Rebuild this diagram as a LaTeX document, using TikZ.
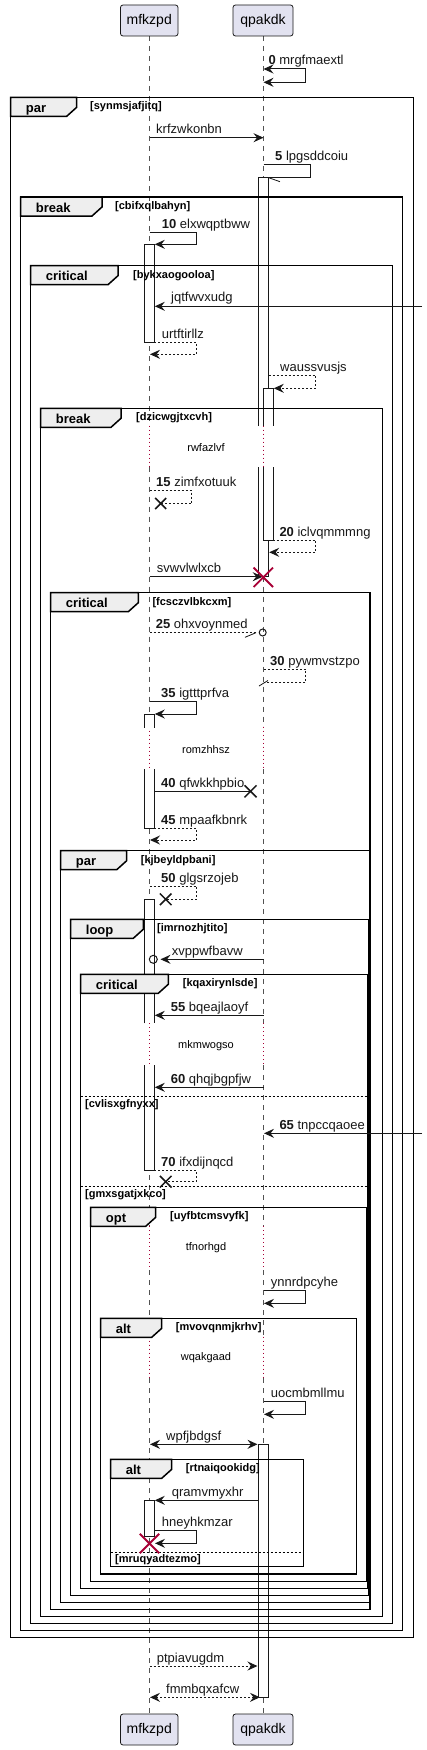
\documentclass[tikz,border=0pt]{standalone}
\usepackage{fontspec}
\setmainfont{Liberation Sans}
\usetikzlibrary{arrows.meta}
\definecolor{lc}{HTML}{181818}
\definecolor{pfill}{HTML}{E2E2F0}
\definecolor{tfill}{HTML}{EEEEEE}
\definecolor{rx}{HTML}{A80036}
\newcommand\msgfont{\fontsize{13}{15}\selectfont}
\newcommand\partfont{\fontsize{14}{16}\selectfont}
\newcommand\tabfont{\fontsize{13}{15}\selectfont\bfseries}
\newcommand\flabfont{\fontsize{11}{13}\selectfont\bfseries}
\newcommand\delayfont{\fontsize{11}{13}\selectfont}
% frame: name, L, T, R, B, tabR, title, label, labelX
\newcommand\umlframe[9]{%
  \draw[frameline] (#2,#3) rectangle (#4,#5);
  \filldraw[tabshape] (#2,#3) -- (#6,#3) -- (#6,#3+10) -- (#6-10,#3+19) -- (#2,#3+19) -- cycle;
  \node[tabtitle] (#1t) at (#2+15,#3+15) {#7};
  \node[flabel] (#1l) at (#9,#3+12.5) {[#8]};
}
% separator: name, L, R, y, label
\newcommand\umlsep[5]{%
  \draw[sepline] (#2,#4) -- (#3,#4);
  \node[flabel] (#1) at (#2+4.3,#4+10.5) {[#5]};
}
\newcommand\xmark[4]{% x, y, half size, style
  \draw[#4] (#1-#3,#2-#3) -- (#1+#3,#2+#3) (#1-#3,#2+#3) -- (#1+#3,#2-#3);
}
\begin{document}
\begin{tikzpicture}[x=1pt,y=-1pt,
  msgline/.style={draw=lc,line width=1pt},
  dmsgline/.style={msgline,dash pattern=on 2pt off 2pt},
  endarr/.style={-{Stealth[length=10pt,width=9pt,inset=3.5pt]}},
  botharr/.style={{Stealth[length=10pt,width=9pt,inset=3.5pt]}-{Stealth[length=10pt,width=9pt,inset=3.5pt]}},
  msgtext/.style={anchor=base west,inner sep=0pt,font=\msgfont,text=lc},
  part/.style={draw=lc,fill=pfill,rounded corners=2.5pt,line width=0.8pt,minimum height=31pt,inner sep=0pt,font=\partfont,text=black},
  frameline/.style={draw=black,line width=1.5pt},
  tabshape/.style={draw=black,fill=tfill,line width=1.5pt,line join=miter},
  tabtitle/.style={anchor=base west,inner sep=0pt,font=\tabfont},
  flabel/.style={anchor=base west,inner sep=0pt,font=\flabfont},
  sepline/.style={draw=black,line width=1pt,dash pattern=on 2pt off 2pt},
  lifedash/.style={draw=lc!75,line width=0.8pt,dash pattern=on 5pt off 5pt},
  lifedot/.style={draw=rx,line width=1pt,dash pattern=on 1pt off 3pt},
  actbox/.style={draw=lc,line width=1pt},
  delaytext/.style={inner sep=0pt,font=\delayfont,text=black},
  blackx/.style={draw=lc,line width=1.5pt},
  redx/.style={draw=rx,line width=1.8pt},
]
\useasboundingbox (0,0) rectangle (427,1750);
\fill[white] (0,0) rectangle (427,1750);

% ---------- lifelines ----------
\foreach \lx in {149.5,263.5}{
  \foreach \a/\b in {36/425.7,466.7/726.7,769/1023.3,1065/1226,1270/1336.7,1378.3/1714}
    \draw[lifedash] (\lx,\a) -- (\lx,\b);
  \foreach \a/\b in {425.7/466.7,726.7/769,1023.3/1065,1226/1270,1336.7/1378.3}
    \draw[lifedot] (\lx,\a) -- (\lx,\b);
}

% ---------- participants ----------
\node[part,minimum width=57.5pt] (pa) at (149.25,20.5) {mfkzpd};
\node[part,minimum width=60pt] (pb) at (263,20.5) {qpakdk};
\node[part,minimum width=57.5pt] (pa2) at (149.25,1729.5) {mfkzpd};
\node[part,minimum width=60pt] (pb2) at (263,1729.5) {qpakdk};

% ---------- activation boxes ----------
% A1 qpakdk
\fill[white] (258.7,177.3) rectangle (268.7,426);
\draw[actbox] (258.7,426) -- (258.7,177.3) -- (268.7,177.3) -- (268.7,426);
\fill[white] (258.7,467) rectangle (268.7,576.7);
\draw[actbox] (258.7,467) -- (258.7,576.7) -- (268.7,576.7) -- (268.7,467);
% A2 qpakdk nested
\fill[white] (263.3,388.3) rectangle (273.3,426);
\draw[actbox] (263.3,426) -- (263.3,388.3) -- (273.3,388.3) -- (273.3,426);
\fill[white] (263.3,467) rectangle (273.3,540);
\draw[actbox] (263.3,467) -- (263.3,540) -- (273.3,540) -- (273.3,467);
% A3 mfkzpd
\filldraw[actbox,fill=white] (144.3,244.3) rectangle (154.3,342.3);
% A4 mfkzpd
\fill[white] (144.3,714) rectangle (154.3,727.7);
\draw[actbox] (144.3,727.7) -- (144.3,714) -- (154.3,714) -- (154.3,727.7);
\fill[white] (144.3,769) rectangle (154.3,828.3);
\draw[actbox] (144.3,769) -- (144.3,828.3) -- (154.3,828.3) -- (154.3,769);
% A5 mfkzpd
\fill[white] (144.3,899.3) rectangle (154.3,1023.3);
\draw[actbox] (144.3,1023.3) -- (144.3,899.3) -- (154.3,899.3) -- (154.3,1023.3);
\fill[white] (144.3,1065) rectangle (154.3,1170.7);
\draw[actbox] (144.3,1065) -- (144.3,1170.7) -- (154.3,1170.7) -- (154.3,1065);
% A6 qpakdk
\filldraw[actbox,fill=white] (258.7,1444.3) rectangle (268.7,1697.3);
% A7 mfkzpd
\filldraw[actbox,fill=white] (144.3,1500.3) rectangle (154.3,1536);

% ---------- frames ----------
\umlframe{f1}{10.7}{97.3}{413.3}{1637.7}{76.7}{par}{synmsjafjitq}{90}
\umlframe{f2}{20.7}{197}{402.3}{1630.7}{102}{break}{cbifxqlbahyn}{115}
\umlframe{f3}{30.7}{265.7}{392.3}{1623.3}{118}{critical}{bykxaogooloa}{133}
\umlframe{f4}{40.7}{408.3}{382.3}{1616.7}{121}{break}{dzicwgjtxcvh}{136}
\umlframe{f5}{50.7}{592.7}{370}{1609.3}{138.3}{critical}{fcsczvlbkcxm}{152.3}
\umlframe{f6}{60.7}{850.7}{369.3}{1602.3}{126.7}{par}{kjbeyldpbani}{140.7}
\umlframe{f7}{70.7}{919.3}{368.7}{1595.3}{143.3}{loop}{imrnozhjtito}{157}
\umlframe{f8}{80.7}{974.3}{368}{1588.3}{168.3}{critical}{kqaxirynlsde}{182.7}
\umlsep{s8a}{80.7}{368}{1096.7}{cvlisxgfnyxx}
\umlsep{s8b}{80.7}{368}{1186.7}{gmxsgatjxkco}
\umlframe{f9}{90.7}{1207.3}{366.7}{1581.7}{155.7}{opt}{uyfbtcmsvyfk}{170}
\umlframe{f10}{100.7}{1318.3}{356.7}{1574}{161.7}{alt}{mvovqnmjkrhv}{175.7}
\umlframe{f11}{110.7}{1459.3}{303.3}{1566.7}{171.7}{alt}{rtnaiqookidg}{185.7}
\umlsep{s11a}{110.7}{303.3}{1552.3}{mruqyadtezmo}

% ---------- delays ----------
\node[delaytext] (d1) at (206,448) {rwfazlvf};
\node[delaytext] (d2) at (206,749.5) {romzhhsz};
\node[delaytext] (d3) at (206,1045.5) {mkmwogso};
\node[delaytext] (d4) at (206,1248) {tfnorhgd};
\node[delaytext] (d5) at (206,1358) {wqakgaad};

% ---------- messages ----------
\draw[msgline,botharr] (263.5,69) -- (305.7,69) -- (305.7,82.3) -- (263.5,82.3);
\node[msgtext] (m0) at (268.3,65) {\textbf{0} mrgfmaextl};

\draw[msgline,endarr] (149.5,137.7) -- (263.5,137.7);
\node[msgtext] (m1) at (156,134) {krfzwkonbn};

\draw[msgline] (263.5,164.3) -- (310.7,164.3) -- (310.7,177.3) -- (268.7,177.3);
\draw[lc,line width=0.8pt] (269,177.8) -- (280,181.7);
\node[msgtext] (m5) at (275,160.3) {\textbf{5} lpgsddcoiu};

\draw[msgline,endarr] (149.5,232.3) -- (196.7,232.3) -- (196.7,244.3) -- (154.8,244.3);
\node[msgtext] (m10) at (161.7,228.3) {\textbf{10} elxwqptbww};

\draw[msgline,endarr] (422,306.3) -- (154.8,306.3);
\node[msgtext] (mj) at (171,301.8) {jqtfwvxudg};

\draw[dmsgline,endarr] (154.3,342.3) -- (196.7,342.3) -- (196.7,354.3) -- (150,354.3);
\node[msgtext] (mu) at (161.7,338.3) {urtftirllz};

\draw[dmsgline,endarr] (268.7,375) -- (315.7,375) -- (315.7,388.3) -- (273.8,388.3);
\node[msgtext] (mw) at (280,371) {waussvusjs};

\draw[dmsgline] (149.5,490.7) -- (191.7,490.7) -- (191.7,503.5) -- (160.7,503.5);
\xmark{160.7}{503.5}{5.5}{blackx}
\node[msgtext] (m15) at (156,486.7) {\textbf{15} zimfxotuuk};

\draw[dmsgline,endarr] (268.7,540) -- (315.7,540) -- (315.7,552.3) -- (269.2,552.3);
\node[msgtext] (m20) at (279.3,536) {\textbf{20} iclvqmmmng};

\draw[msgline,endarr] (149.5,576.7) -- (262.7,576.7);
\xmark{263.3}{577.3}{9.7}{redx}
\node[msgtext] (ms) at (156.7,572.7) {svwvlwlxcb};

\draw[dmsgline] (149.5,632.7) -- (256,632.7);
\draw[lc,line width=0.8pt] (256,632.7) -- (245,637.3);
\draw[lc,line width=1pt] (262.7,632.5) circle (3.5);
\node[msgtext] (m25) at (155.7,628.7) {\textbf{25} ohxvoynmed};

\draw[dmsgline] (263.5,669) -- (305.7,669) -- (305.7,682.5) -- (263.5,682.5);
\draw[lc,line width=0.8pt] (259,686) -- (268,680.5);
\node[msgtext] (m30) at (270,665) {\textbf{30} pywmvstzpo};

\draw[msgline,endarr] (149.5,701) -- (196.7,701) -- (196.7,714) -- (154.8,714);
\node[msgtext] (m35) at (161,697) {\textbf{35} igtttprfva};

\draw[msgline] (154.3,791) -- (250.5,791);
\xmark{250.5}{791.3}{6}{blackx}
\node[msgtext] (m40) at (161,787) {\textbf{40} qfwkkhpbio};

\draw[dmsgline,endarr] (154.3,828.3) -- (196.7,828.3) -- (196.7,840) -- (150,840);
\node[msgtext] (m45) at (161,824.3) {\textbf{45} mpaafkbnrk};

\draw[dmsgline] (149.5,886) -- (196.7,886) -- (196.7,899.3) -- (165.7,899.3);
\xmark{165.7}{899.3}{5.8}{blackx}
\node[msgtext] (m50) at (161,882) {\textbf{50} glgsrzojeb};

\draw[msgline,endarr] (263.5,959.3) -- (160.5,959.3);
\draw[lc,line width=1pt] (153.3,959.3) circle (4);
\node[msgtext] (mx) at (171.7,955.3) {xvppwfbavw};

\draw[msgline,endarr] (263.5,1015.3) -- (154.8,1015.3);
\node[msgtext] (m55) at (170.7,1011.3) {\textbf{55} bqeajlaoyf};

\draw[msgline,endarr] (263.5,1087.3) -- (154.8,1087.3);
\node[msgtext] (m60) at (170.7,1083.3) {\textbf{60} qhqjbgpfjw};

\draw[msgline,endarr] (422,1133.3) -- (264,1133.3);
\node[msgtext] (m65) at (279.3,1129.3) {\textbf{65} tnpccqaoee};

\draw[dmsgline] (154.3,1170.7) -- (196.7,1170.7) -- (196.7,1181.7) -- (165.7,1181.7);
\xmark{165.7}{1181.7}{5.8}{blackx}
\node[msgtext] (m70) at (161,1166.7) {\textbf{70} ifxdijnqcd};

\draw[msgline,endarr] (263.5,1290.7) -- (305.7,1290.7) -- (305.7,1303.3) -- (264,1303.3);
\node[msgtext] (my) at (270.7,1286.7) {ynnrdpcyhe};

\draw[msgline,endarr] (263.5,1401) -- (305.7,1401) -- (305.7,1414.3) -- (264,1414.3);
\node[msgtext] (muo) at (270.7,1397) {uocmbmllmu};

\draw[msgline,botharr] (150,1444.3) -- (257.5,1444.3);
\node[msgtext] (mwp) at (166,1440.3) {wpfjbdgsf};

\draw[msgline,endarr] (258.7,1500.3) -- (154.8,1500.3);
\node[msgtext] (mq) at (171.7,1496.3) {qramvmyxhr};

\draw[msgline,endarr] (154.3,1530.7) -- (196.7,1530.7) -- (196.7,1543.3) -- (155,1543.3);
\xmark{149.5}{1543.5}{9.7}{redx}
\node[msgtext] (mh) at (161.7,1526.7) {hneyhkmzar};

\draw[dmsgline,endarr] (149.5,1666) -- (257.5,1666);
\node[msgtext] (mp) at (156.7,1662) {ptpiavugdm};

\draw[dmsgline,botharr] (150,1697.3) -- (260,1697.3);
\node[msgtext] (mf) at (166,1693.3) {fmmbqxafcw};
\end{tikzpicture}
\end{document}
